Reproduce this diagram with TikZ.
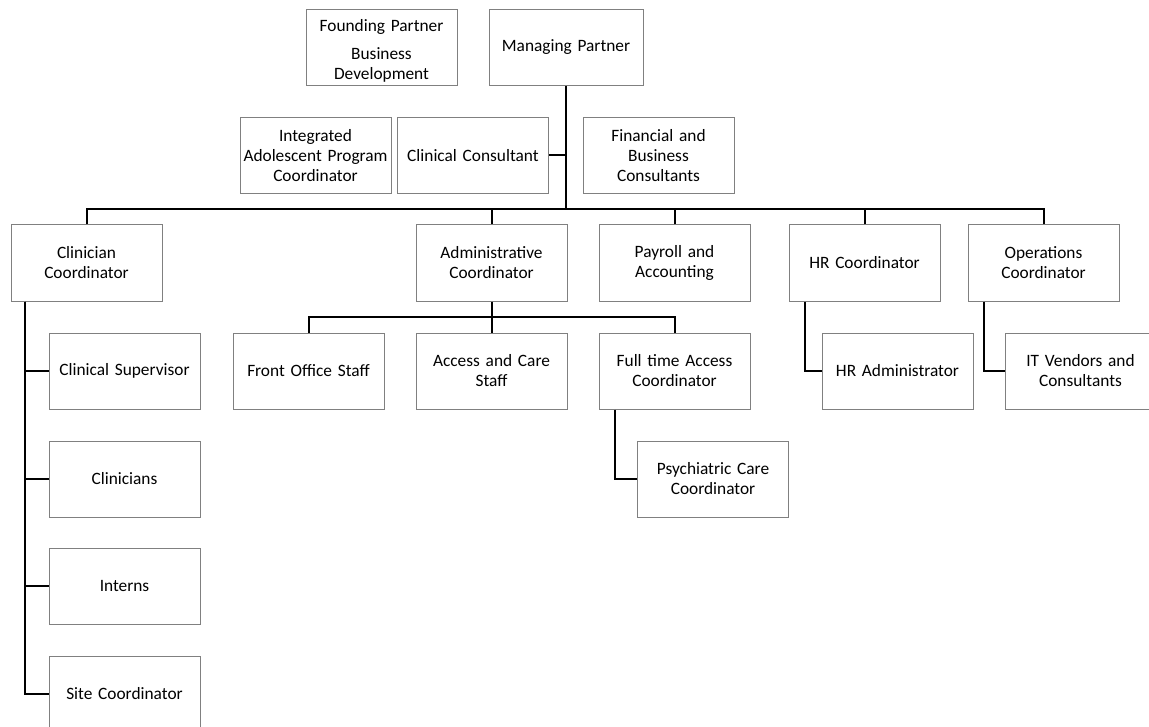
\documentclass[tikz,border=0pt]{standalone}
\usepackage{fontspec}
\setmainfont{Carlito}
\usetikzlibrary{positioning}

\begin{document}
\begin{tikzpicture}[x=0.75pt,y=-0.75pt,
  post/.style={draw=black!50, line width=0.75pt, fill=white,
    minimum width=113.25pt, minimum height=57pt, inner sep=0.6pt,
    text width=112pt, align=center,
    font=\fontsize{13}{15}\selectfont},
  link/.style={draw=black, line width=1.5pt}]
  \useasboundingbox (0,0) rectangle (1149,727);

  %top level
  \node[post] (found) at (381.5,47.5) {\mbox{}\\[-0.75pt]Founding Partner\\[6.5pt]Business\\Development};
  \node[post, minimum width=115.5pt] (manage) at (566,47.5) {Managing Partner};

  %advisors
  \node[post] (integ) at (315.5,156) {Integrated\\Adolescent Program\\Coordinator};
  \node[post] (clincons) at (473,155.5) {Clinical Consultant};
  \node[post] (fin) at (658.5,155.5) {Financial and\\Business\\Consultants};

  %coordinators
  \node[post] (clincoord) at (86.5,263) {Clinician\\Coordinator};
  \node[post] (admin) at (491.5,263) {Administrative\\Coordinator};
  \node[post] (payroll) at (674.5,263) {Payroll and\\Accounting};
  \node[post] (hrcoord) at (864.5,263) {HR Coordinator};
  \node[post] (ops) at (1043.5,263) {Operations\\Coordinator};

  %administrative staff
  \node[post] (front) at (308.5,371) {Front Office Staff};
  \node[post] (access) at (491.5,371) {Access and Care\\Staff};
  \node[post] (fulltime) at (674.5,371) {Full time Access\\Coordinator};
  \node[post] (psych) at (713,479) {Psychiatric Care\\Coordinator};

  %hr and operations staff
  \node[post] (hradmin) at (897.5,371) {HR Administrator};
  \node[post] (itv) at (1080.5,371) {IT Vendors and\\Consultants};

  %clinical staff
  \node[post] (clinsup) at (124.5,371) {Clinical Supervisor};
  \node[post] (clinicians) at (124.5,479) {Clinicians};
  \node[post] (interns) at (124.5,586) {Interns};
  \node[post] (site) at (124.5,694) {Site Coordinator};

  %connectors
  \coordinate (bus) at (566,209);
  \coordinate (adminbus) at (491.5,317);

  \draw[link] (manage.south) -- (bus);
  \draw[link] (clincons.east) -- (clincons.east -| bus);
  \foreach \n in {clincoord,admin,payroll,hrcoord,ops}
    \draw[link] (\n.north) |- (bus);

  \draw[link] (admin.south) -- (adminbus);
  \foreach \n in {front,access,fulltime}
    \draw[link] (\n.north) |- (adminbus);

  \draw[link] ([xshift=12pt]fulltime.south west) |- (psych.west);
  \draw[link] ([xshift=12pt]hrcoord.south west) |- (hradmin.west);
  \draw[link] ([xshift=12pt]ops.south west) |- (itv.west);

  \foreach \n in {clinsup,clinicians,interns,site}
    \draw[link] ([xshift=11pt]clincoord.south west) |- (\n.west);
\end{tikzpicture}
\end{document}
